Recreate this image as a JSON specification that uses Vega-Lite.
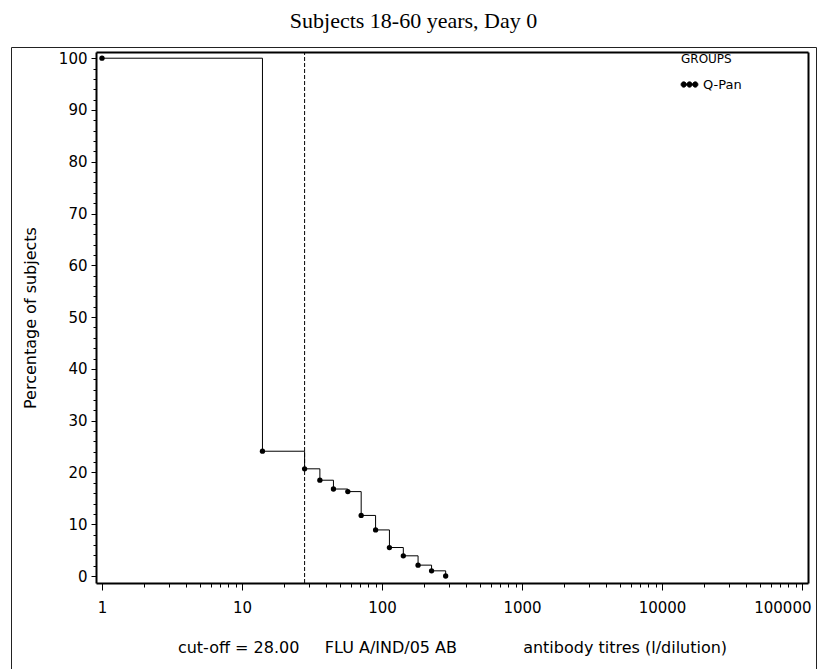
{
  "$schema": "https://vega.github.io/schema/vega-lite/v6.json",
  "autosize": "none",
  "width": 805,
  "height": 622,
  "padding": {"left": 11, "top": 47, "right": 1, "bottom": 0},
  "background": "white",
  "title": {"text": "Subjects 18-60 years, Day 0", "font": "Liberation Serif", "fontSize": 22, "fontWeight": "normal", "color": "black", "anchor": "middle", "offset": 14},
  "config": {
    "font": "DejaVu Sans",
    "view": {"stroke": "#222", "strokeWidth": 1},
    "axis": {"grid": false, "domainColor": "black", "tickColor": "black", "labelColor": "black", "titleColor": "black", "labelFlush": false, "labelOverlap": false}
  },
  "datasets": {
    "curve": [
      {"titre": 1, "pct": 100, "group": "Q-Pan"},
      {"titre": 14, "pct": 24.1, "group": "Q-Pan"},
      {"titre": 28, "pct": 20.7, "group": "Q-Pan"},
      {"titre": 36, "pct": 18.5, "group": "Q-Pan"},
      {"titre": 45, "pct": 16.8, "group": "Q-Pan"},
      {"titre": 57, "pct": 16.3, "group": "Q-Pan"},
      {"titre": 71, "pct": 11.7, "group": "Q-Pan"},
      {"titre": 90, "pct": 8.9, "group": "Q-Pan"},
      {"titre": 113, "pct": 5.5, "group": "Q-Pan"},
      {"titre": 142, "pct": 3.9, "group": "Q-Pan"},
      {"titre": 181, "pct": 2.1, "group": "Q-Pan"},
      {"titre": 226, "pct": 1.0, "group": "Q-Pan"},
      {"titre": 285, "pct": 0, "group": "Q-Pan"}
    ],
    "cutoff": [{"cutoff": 28}]
  },
  "resolve": {"axis": {"x": "independent", "y": "independent"}},
  "layer": [
    {
      "data": {"name": "curve"},
      "mark": {"type": "line", "interpolate": "step-after", "strokeWidth": 1},
      "encoding": {
        "x": {
          "field": "titre", "type": "quantitative",
          "scale": {"type": "log", "domain": [0.906, 110400], "range": [85, 797], "nice": false},
          "axis": {
            "orient": "bottom", "offset": -86,
            "values": [1, 10, 100, 1000, 10000, 100000],
            "labelExpr": "format(datum.value, 'd')",
            "labelAlign": {"condition": {"test": "datum.value >= 100000", "value": "right"}, "value": "center"},
            "labelOffset": {"condition": {"test": "datum.value >= 100000", "value": 9}, "value": 0},
            "domainWidth": 2, "tickSize": 7, "tickWidth": 1,
            "labelFontSize": 15, "labelPadding": 10,
            "title": "cut-off = 28.00\u00a0\u00a0\u00a0\u00a0\u00a0FLU A/IND/05 AB\u00a0\u00a0\u00a0\u00a0\u00a0\u00a0\u00a0\u00a0\u00a0\u00a0\u00a0\u00a0\u00a0antibody titres (l/dilution)",
            "titleFontSize": 16, "titleFontWeight": "normal", "titlePadding": 24
          }
        },
        "y": {
          "field": "pct", "type": "quantitative",
          "scale": {"domain": [-1.35, 101.2], "range": [536, 5], "nice": false, "zero": false},
          "axis": {
            "orient": "left", "offset": -85,
            "values": [0, 10, 20, 30, 40, 50, 60, 70, 80, 90, 100],
            "domainWidth": 2, "tickSize": 5, "tickWidth": 1,
            "labelFontSize": 15, "labelPadding": 4,
            "title": "Percentage of subjects",
            "titleFontSize": 16, "titleFontWeight": "normal", "titlePadding": 20
          }
        },
        "color": {
          "field": "group", "type": "nominal",
          "scale": {"range": ["black"]},
          "legend": {
            "orient": "none", "legendX": 670, "legendY": 7,
            "title": "GROUPS", "titleFontSize": 12, "titleFontWeight": "normal", "titleColor": "black", "titlePadding": 10,
            "labelFontSize": 13, "labelColor": "black", "labelOffset": 5,
            "symbolType": "M-0.72,0L0.72,0M-1.05,0a0.33,0.33 0 1,0 0.66,0a0.33,0.33 0 1,0 -0.66,0M-0.33,0a0.33,0.33 0 1,0 0.66,0a0.33,0.33 0 1,0 -0.66,0M0.39,0a0.33,0.33 0 1,0 0.66,0a0.33,0.33 0 1,0 -0.66,0",
            "symbolSize": 256, "symbolStrokeWidth": 1, "symbolFillColor": "black", "symbolStrokeColor": "black", "symbolOpacity": 1,
            "padding": 0
          }
        }
      }
    },
    {
      "data": {"name": "curve"},
      "mark": {"type": "point", "filled": true, "size": 28, "opacity": 1},
      "encoding": {
        "x": {
          "field": "titre", "type": "quantitative",
          "axis": {
            "orient": "bottom", "offset": -86,
            "values": [2, 3, 4, 5, 6, 7, 8, 9, 20, 30, 40, 50, 60, 70, 80, 90, 200, 300, 400, 500, 600, 700, 800, 900, 2000, 3000, 4000, 5000, 6000, 7000, 8000, 9000, 20000, 30000, 40000, 50000, 60000, 70000, 80000, 90000],
            "domain": false, "labels": false, "tickSize": 4, "tickWidth": 1, "title": null
          }
        },
        "y": {
          "field": "pct", "type": "quantitative",
          "axis": {
            "orient": "left", "offset": -85,
            "values": [0, 2, 4, 6, 8, 12, 14, 16, 18, 22, 24, 26, 28, 32, 34, 36, 38, 42, 44, 46, 48, 52, 54, 56, 58, 62, 64, 66, 68, 72, 74, 76, 78, 82, 84, 86, 88, 92, 94, 96, 98],
            "domain": false, "labels": false, "tickSize": 3, "tickWidth": 1, "title": null
          }
        },
        "color": {"field": "group", "type": "nominal"}
      }
    },
    {
      "data": {"name": "cutoff"},
      "mark": {"type": "rule", "strokeDash": [4, 2], "strokeWidth": 1, "color": "black"},
      "encoding": {
        "x": {
          "field": "cutoff", "type": "quantitative",
          "axis": {"orient": "top", "offset": -5, "domainWidth": 2, "ticks": false, "labels": false, "title": null}
        },
        "y": {
          "datum": -1.35, "type": "quantitative",
          "axis": {"orient": "right", "offset": -8, "domainWidth": 2, "ticks": false, "labels": false, "title": null}
        },
        "y2": {"datum": 101.2}
      }
    }
  ]
}
